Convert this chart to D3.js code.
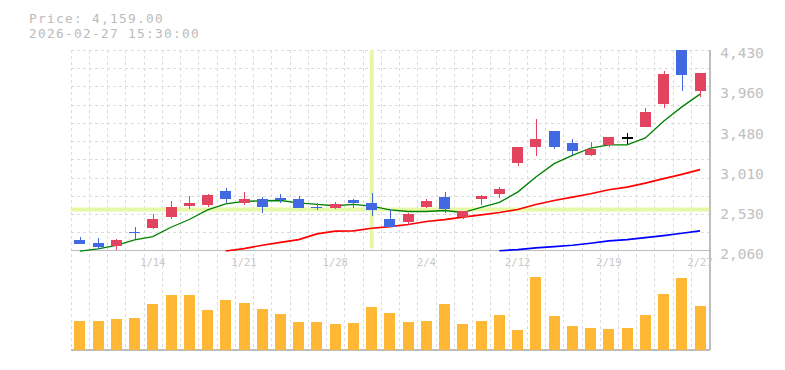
<!DOCTYPE html>
<html>
<head>
<meta charset="utf-8">
<script src="https://cdn.jsdelivr.net/npm/d3@7"></script>
<style>
  html, body { margin: 0; padding: 0; background: #fff; }
  svg { display: block; }
</style>
</head>
<body>
<svg id="chart" width="785" height="370"></svg>
<script>
// ---- data ----
const dates = ["1/7","1/8","1/9","1/13","1/14","1/15","1/16","1/19","1/20","1/21",
  "1/22","1/23","1/26","1/27","1/28","1/29","1/30","2/2","2/3","2/4",
  "2/5","2/6","2/9","2/10","2/12","2/13","2/16","2/17","2/18","2/19",
  "2/20","2/24","2/25","2/26","2/27"];
const open  = [2190,2155,2111,2285,2324,2455,2585,2597,2759,2621,
  2664,2676,2664,2578,2562,2652,2617,2439,2392,2574,
  2688,2455,2664,2724,3091,3281,3470,3328,3186,3304,
  3391,3518,3794,4430,3948];
const high  = [2226,2214,2202,2333,2498,2641,2700,2724,2795,2747,
  2688,2724,2703,2625,2637,2664,2735,2546,2502,2664,
  2747,2530,2712,2807,3281,3612,3470,3375,3340,3399,
  3450,3743,4178,4430,4159];
const low   = [2135,2080,2062,2198,2320,2439,2550,2574,2621,2597,
  2502,2621,2562,2534,2546,2562,2471,2344,2368,2562,
  2502,2433,2593,2676,3058,3174,3261,3186,3174,3281,
  3324,3518,3746,3948,3877];
const close = [2135,2102,2190,2265,2439,2570,2617,2712,2668,2664,
  2574,2652,2562,2562,2609,2617,2540,2344,2493,2641,
  2550,2530,2700,2783,3281,3375,3281,3233,3257,3399,
  3391,3695,4146,4137,4159];
const volume = [29,29,31,32,46,55,55,40,50,47,
  41,36,28,28,26,27,43,37,28,29,
  46,26,29,35,20,73,34,24,22,21,
  22,35,56,72,44];
const ma5 = [2055,2080,2123,2187,2226,2336,2427,2542,2613,2641,
  2649,2652,2625,2605,2590,2605,2585,2542,2522,2522,
  2534,2510,2570,2629,2751,2929,3087,3186,3272,3308,
  3308,3391,3589,3758,3909];
const ma25 = [null,null,null,null,null,null,null,null,2055,2084,
  2123,2158,2190,2258,2289,2294,2324,2344,2368,2404,
  2427,2455,2481,2510,2546,2605,2652,2692,2732,2779,
  2810,2857,2910,2961,3016];
const ma75 = [null,null,null,null,null,null,null,null,null,null,
  null,null,null,null,null,null,null,null,null,null,
  null,null,null,2058,2072,2092,2107,2123,2147,2175,
  2190,2214,2238,2265,2293];
const yTicks = [4430,3960,3480,3010,2530,2060];
const xTickIdx = [4,9,14,19,24,29,34];
const priceText = "Price: 4,159.00";
const timeText = "2026-02-27 15:30:00";
const crossIdx = 16;

// ---- layout ----
const L = 70.7, R = 709.2, T = 50, PB = 250.6, VB = 350;
const svg = d3.select("#chart");
const idx = d3.range(dates.length);
const x = d3.scaleBand().domain(idx).range([L, R]).padding(0);
const step = x.step();
const cx = i => x(i) + step / 2;
const y = d3.scaleLinear().domain([2060, 4430]).range([PB, T]);
const yv = d3.scaleLinear().domain([0, 80]).range([VB, VB - 80]);
const bw = 11;

const upC = "#e2445f", downC = "#4169e1", dojiC = "#000";

// grid
const grid = svg.append("g").attr("stroke", "#dcdcdc").attr("stroke-dasharray", "3,3")
  .attr("shape-rendering", "crispEdges");
d3.range(dates.length).forEach(k => {
  const gx = Math.round(L + k * step) + 0.5;
  grid.append("line").attr("x1", gx).attr("x2", gx).attr("y1", T).attr("y2", VB);
});
d3.range(11).forEach(k => {
  const gy = Math.round(T + k * step) + 0.5;
  grid.append("line").attr("x1", L).attr("x2", R).attr("y1", gy).attr("y2", gy);
});

// solid borders
const bord = svg.append("g").attr("stroke", "#bdbdbd").attr("stroke-width", 1.5).attr("shape-rendering", "crispEdges");
bord.append("line").attr("x1", L).attr("x2", R + 1).attr("y1", PB).attr("y2", PB);
bord.append("line").attr("x1", L).attr("x2", R + 1).attr("y1", VB).attr("y2", VB);
bord.append("line").attr("x1", R + 1).attr("x2", R + 1).attr("y1", T).attr("y2", VB);

// volume bars
svg.append("g").selectAll("rect").data(idx).join("rect")
  .attr("x", i => Math.round(cx(i) - bw / 2))
  .attr("width", bw)
  .attr("y", i => yv(volume[i]))
  .attr("height", i => VB - yv(volume[i]))
  .attr("fill", "#ffb835")
  .attr("shape-rendering", "crispEdges");

// crosshair
const ch = svg.append("g").attr("stroke", "#e6f7a6").attr("stroke-width", 4);
ch.append("line").attr("x1", cx(crossIdx)).attr("x2", cx(crossIdx)).attr("y1", T).attr("y2", PB - 2);
ch.append("line").attr("x1", L).attr("x2", R).attr("y1", y(close[crossIdx]) - 0.5).attr("y2", y(close[crossIdx]) - 0.5);

// moving averages
function maLine(arr, color, w) {
  const line = d3.line().defined(d => d != null).x((d, i) => cx(i)).y(d => y(d));
  svg.append("path").attr("d", line(arr)).attr("fill", "none")
    .attr("stroke", color).attr("stroke-width", w);
}
maLine(ma5, "#008000", 1.3);
maLine(ma25, "#ff0000", 1.7);
maLine(ma75, "#0000ff", 1.7);

// candles
const cg = svg.append("g").attr("shape-rendering", "crispEdges");
idx.forEach(i => {
  const col = close[i] > open[i] ? upC : (close[i] < open[i] ? downC : dojiC);
  const xc = Math.round(cx(i)) + 0.5;
  cg.append("line").attr("x1", xc).attr("x2", xc)
    .attr("y1", y(high[i])).attr("y2", y(low[i]))
    .attr("stroke", col).attr("stroke-width", 1.3);
  const top = y(Math.max(open[i], close[i])), bot = y(Math.min(open[i], close[i]));
  if (bot - top < 1.5) {
    cg.append("rect").attr("x", Math.round(cx(i) - bw / 2)).attr("width", bw)
      .attr("y", (top + bot) / 2 - 0.75).attr("height", 1.5).attr("fill", col);
  } else {
    cg.append("rect").attr("x", Math.round(cx(i) - bw / 2)).attr("width", bw)
      .attr("y", top).attr("height", bot - top).attr("fill", col);
  }
});

// y axis labels
const yAx = svg.append("g").attr("transform", `translate(${R + 1},0)`)
  .call(d3.axisRight(y).tickValues(yTicks).tickFormat(d3.format(",")).tickSize(0).tickPadding(10));
yAx.select(".domain").remove();
yAx.selectAll("text").attr("fill", "#c0c0c0").attr("font-family", "DejaVu Sans Mono, monospace")
  .attr("font-size", "14.5px").attr("dy", "0.55em");

// x axis labels
const xAx = svg.append("g").attr("transform", `translate(0,${PB})`)
  .call(d3.axisBottom(x).tickValues(xTickIdx).tickFormat(i => dates[i]).tickSize(0).tickPadding(8));
xAx.select(".domain").remove();
xAx.selectAll("text").attr("fill", "#c8c8c8").attr("font-family", "DejaVu Sans Mono, monospace")
  .attr("font-size", "10.5px");

// header
const hdr = svg.append("g").attr("fill", "#bbbbbb").attr("font-family", "DejaVu Sans Mono, monospace")
  .attr("font-size", "12.8px").attr("letter-spacing", "1.3px");
hdr.append("text").attr("x", 29).attr("y", 22.5).text(priceText);
hdr.append("text").attr("x", 29).attr("y", 37.5).text(timeText);
</script>
</body>
</html>
